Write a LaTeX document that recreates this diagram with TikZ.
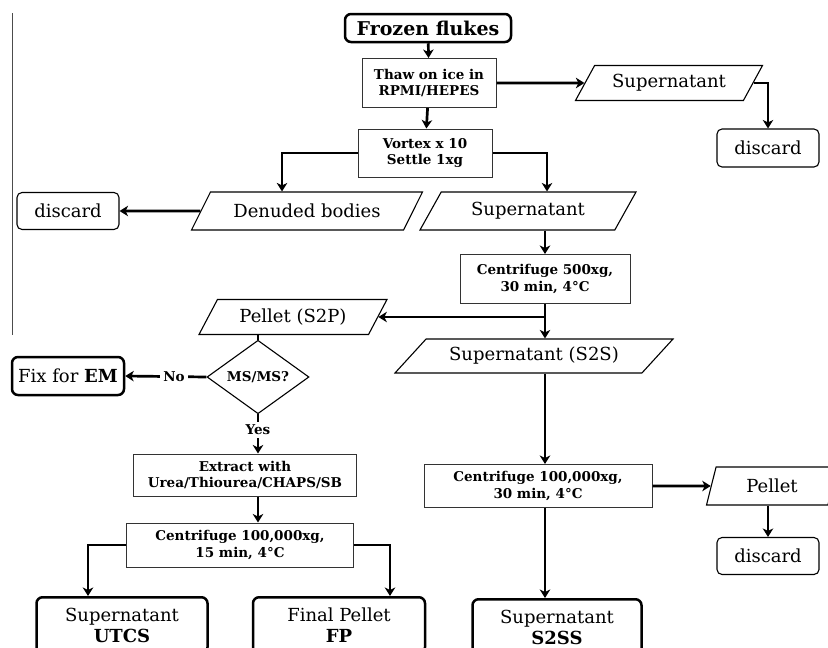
\documentclass[tikz,border=0pt]{standalone}
\usepackage{fontspec}
\setmainfont{DejaVu Serif}
\usetikzlibrary{shapes.geometric,arrows.meta,positioning}

\begin{document}
\begin{tikzpicture}
			[x=1pt, y=-1pt, align=center, font=\fontsize{18}{21}\selectfont,
			arr/.style={-{Stealth[length=8.5pt,width=10.5pt,inset=2.5pt]}, line width=2.7pt},
			link/.style={line width=2.7pt},
			stepbox/.style={draw=black!80, line width=1pt, inner sep=1pt,
				font=\bfseries\fontsize{13.5}{16.5}\selectfont},
			endbox/.style={draw, rounded corners=6pt, line width=2.5pt, inner sep=1pt},
			discbox/.style={draw, rounded corners=5pt, line width=1.1pt,
				minimum width=102pt, minimum height=38pt},
			flowdata/.style={draw, line width=1.1pt, trapezium, trapezium stretches body,
				trapezium left angle=45, trapezium right angle=135, inner sep=1pt},
			query/.style={draw, line width=1.1pt, diamond, inner sep=0pt,
				minimum width=102pt, minimum height=63pt,
				font=\bfseries\fontsize{13.5}{16.5}\selectfont},
			answer/.style={fill=white, inner sep=3pt, font=\bfseries\fontsize{13.5}{16.5}\selectfont}]
			\useasboundingbox (0,0) rectangle (828,648);
			\draw[black!70, line width=0.8pt] (12,13) -- (12,335);
			\node[endbox, minimum width=166pt, minimum height=28pt] (flukes) at (428,28) {\bfseries\fontsize{19}{21}\selectfont Frozen flukes};
			\node[stepbox, minimum width=134pt, minimum height=49pt] (thaw) at (429,83) {Thaw on ice in\\RPMI/HEPES};
			\node[stepbox, minimum width=134pt, minimum height=48pt] (vortex) at (425,153) {Vortex x 10\\Settle 1xg};
			\node[flowdata, minimum width=187pt, minimum height=35pt] (supA) at (669,83) {Supernatant};
			\node[discbox] (discA) at (768,148) {discard};
			\node[flowdata, trapezium left angle=40, trapezium right angle=140,
				minimum width=231pt, minimum height=38pt] (bodies) at (307,211) {Denuded bodies};
			\node[discbox, minimum height=37pt] (discB) at (68,211) {discard};
			\node[flowdata, trapezium left angle=42, trapezium right angle=138,
				minimum width=216pt, minimum height=38pt] (supB) at (528,211) {Supernatant};
			\node[stepbox, minimum width=170pt, minimum height=49pt] (spinA) at (545,279) {Centrifuge 500xg,\\30 min, 4°C};
			\node[flowdata, minimum width=188pt, minimum height=35pt] (sTwoP) at (293,317) {Pellet (S2P)};
			\node[flowdata, trapezium left angle=32, trapezium right angle=148,
				minimum width=278pt, minimum height=34pt] (sTwoS) at (534,356) {Supernatant (S2S)};
			\node[query] (msms) at (258,377) {MS/MS?};
			\node[endbox, minimum width=112pt, minimum height=38pt] (fixem) at (68,376) {Fix for \textbf{EM}};
			\node[stepbox, minimum width=223pt, minimum height=42pt] (extract) at (245,475) {Extract with\\Urea/Thiourea/CHAPS/SB};
			\node[stepbox, minimum width=227pt, minimum height=44pt] (spinC) at (240,545) {Centrifuge 100,000xg,\\15 min, 4°C};
			\node[endbox, minimum width=171pt, minimum height=56pt, anchor=north] (utcs) at (122,596) {Supernatant\\\textbf{UTCS}};
			\node[endbox, minimum width=172pt, minimum height=56pt, anchor=north] (fp) at (339,596) {Final Pellet\\\textbf{FP}};
			\node[stepbox, minimum width=228pt, minimum height=43pt] (spinB) at (538,486) {Centrifuge 100,000xg,\\30 min, 4°C};
			\node[flowdata, trapezium left angle=59, trapezium right angle=121,
				minimum width=131pt, minimum height=38pt] (pelB) at (772,486) {Pellet};
			\node[discbox, minimum height=37pt] (discC) at (768,556) {discard};
			\node[endbox, minimum width=169pt, minimum height=56pt, anchor=north] (stwoss) at (557,598) {Supernatant\\\textbf{S2SS}};
			\coordinate (split) at (spinA.south |- sTwoP.east);
			\draw[arr] (flukes) -- (thaw);
			\draw[arr] (thaw) -- (vortex);
			\draw[arr] (thaw.east) -- (supA.west);
			\draw[arr] (supA.east) -| (discA.north);
			\draw[arr] (vortex.west) -| ([xshift=-25pt]bodies.north);
			\draw[arr] (vortex.east) -| ([xshift=19pt]supB.north);
			\draw[arr] (bodies.west) -- (discB.east);
			\draw[arr] (spinA.north |- supB.south) -- (spinA.north);
			\draw[arr] (spinA.south) -- (spinA.south |- sTwoS.north);
			\draw[arr] (split) -- (sTwoP.east);
			\draw[link] (msms.north |- sTwoP.south) -- (msms.north);
			\draw[arr] (msms.west) -- node[answer, pos=0.4] {No} (fixem.east);
			\draw[arr] (msms.south) -- node[answer, pos=0.4] {Yes} (msms.south |- extract.north);
			\draw[arr] (msms.south |- extract.south) -- (msms.south |- spinC.north);
			\draw[arr] (spinC.west) -| ([xshift=-34pt]utcs.north);
			\draw[arr] (spinC.east) -| ([xshift=51pt]fp.north);
			\draw[arr] (spinA.south |- sTwoS.south) -- (spinA.south |- spinB.north);
			\draw[arr] (spinB.east) -- (pelB.west);
			\draw[arr] (discC.north |- pelB.south) -- (discC.north);
			\draw[arr] (spinA.south |- spinB.south) -- (spinA.south |- stwoss.north);
		\end{tikzpicture}
\end{document}
